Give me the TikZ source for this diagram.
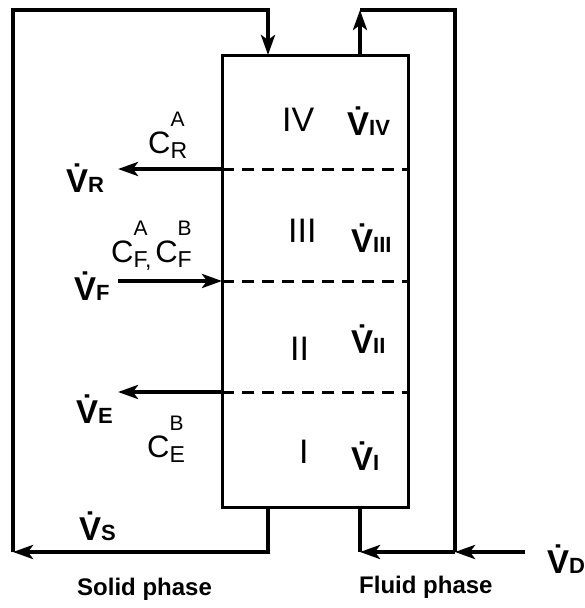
\documentclass[tikz,border=0pt]{standalone}
\usepackage{fontspec}
\setmainfont{Liberation Sans}
\usetikzlibrary{arrows.meta}

\newcommand{\flowrate}[1]{\textbf{\fontsize{33}{33}\selectfont\.{V}\fontsize{22}{22}\selectfont #1}}
\newcommand{\conc}[2]{C\rlap{\raisebox{27pt}{\fontsize{21}{21}\selectfont #2}}\raisebox{-5pt}{\fontsize{23}{23}\selectfont #1}}

\begin{document}
\begin{tikzpicture}[
    x=1pt, y=-1pt,
    column/.style={rectangle, draw=black, line width=3pt, minimum width=186pt, minimum height=452pt, inner sep=0pt},
    flow/.style={line width=4pt, line join=miter},
    into/.style={flow, -{Stealth[length=20pt, width=14pt, inset=5pt]}},
    zone/.style={line width=3pt, dash pattern=on 12pt off 8pt},
    numeral/.style={font=\fontsize{34}{34}\selectfont, inner sep=0pt, anchor=base west},
    rate/.style={inner sep=0pt, anchor=base west},
    conc/.style={font=\fontsize{31}{31}\selectfont, inner sep=0pt, anchor=base west},
    phase/.style={font=\bfseries\fontsize{24}{24}\selectfont, inner sep=0pt, anchor=base west}
]
    \useasboundingbox (0,0) rectangle (584,608);

    % Column
    \node[column] (col) at (315,281) {};

    % Zone boundaries
    \coordinate (w34) at (222,169);  \coordinate (e34) at (408,169);
    \coordinate (w23) at (222,281);  \coordinate (e23) at (408,281);
    \coordinate (w12) at (222,392);  \coordinate (e12) at (408,392);
    \draw[zone] (w34) -- (e34);
    \draw[zone] (w23) -- (e23);
    \draw[zone] (w12) -- (e12);

    % Side streams
    \coordinate (rout) at (118,169);
    \coordinate (fin)  at (118,281);
    \coordinate (eout) at (118,392);
    \draw[into] (w34) -- (rout);
    \draw[into] (fin) -- (w23);
    \draw[into] (w12) -- (eout);

    % Solid loop
    \coordinate (sbot) at (268,507);
    \coordinate (s1)   at (268,552);
    \coordinate (s2)   at (13,552);
    \coordinate (s3)   at (13,10);
    \coordinate (s4)   at (268,10);
    \coordinate (stop) at (268,55);
    \draw[into] (sbot) -- (s1) -- (s2);
    \draw[into] (s2) -- (s3) -- (s4) -- (stop);

    % Fluid loop
    \coordinate (ftop) at (360,55);
    \coordinate (f1)   at (360,10);
    \coordinate (f2)   at (455,10);
    \coordinate (f3)   at (455,552);
    \coordinate (fsrc) at (525,552);
    \coordinate (f4)   at (360,552);
    \coordinate (fbot) at (360,507);
    \draw[into] (ftop) -- (f1);
    \draw[flow] (f1) -- (f2) -- (f3);
    \draw[into] (fsrc) -- (f3);
    \draw[into] (f3) -- (f4);
    \draw[flow] (f4) -- (fbot);

    % Zone labels
    \node[numeral] (zIV)  at (282,131) {IV};
    \node[numeral] (zIII) at (288,242) {III};
    \node[numeral] (zII)  at (290,360) {II};
    \node[numeral] (zI)   at (299,463) {I};
    \node[rate] (VIV)  at (347,135) {\flowrate{IV}};
    \node[rate] (VIII) at (351,252) {\flowrate{III}};
    \node[rate] (VII)  at (351,353) {\flowrate{II}};
    \node[rate] (VI)   at (351,470) {\flowrate{I}};

    % Stream labels
    \node[rate] (VR) at (66,192) {\flowrate{R}};
    \node[rate] (VF) at (74,300) {\flowrate{F}};
    \node[rate] (VE) at (76,423) {\flowrate{E}};
    \node[rate] (VS) at (79,540) {\flowrate{S}};
    \node[rate] (VD) at (547,573) {\flowrate{D}};
    \node[conc] (CR) at (148,153) {\conc{R}{A}};
    \node[conc] (CF) at (111,262) {\conc{F,\,}{A}\conc{F}{B}};
    \node[conc] (CE) at (147,457) {\conc{E}{B}};

    % Phases
    \node[phase] (solid) at (77,595)  {Solid phase};
    \node[phase] (fluid) at (359,593) {Fluid phase};
\end{tikzpicture}
\end{document}
